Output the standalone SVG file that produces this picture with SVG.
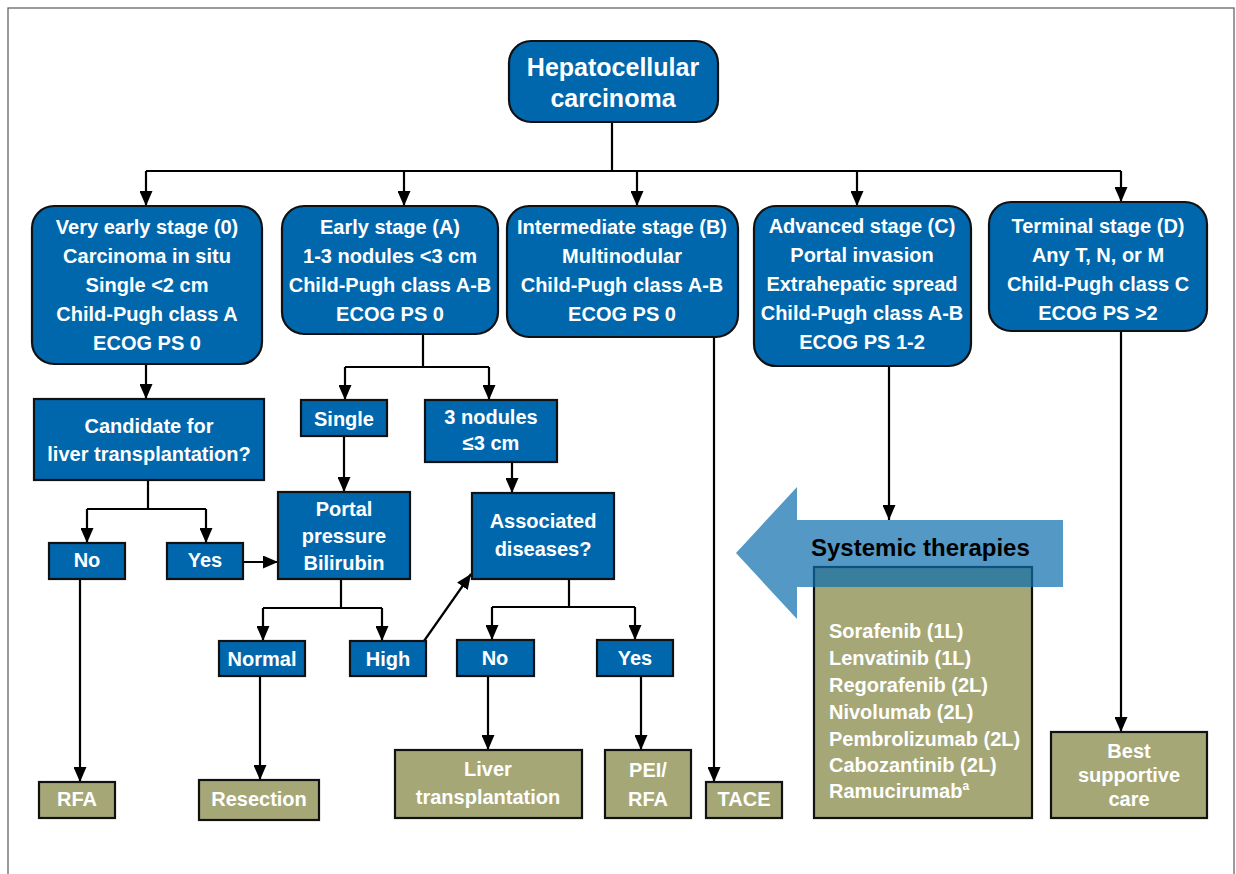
<svg xmlns="http://www.w3.org/2000/svg" width="1236" height="874" viewBox="0 0 1236 874">
<defs>
<marker id="ah" markerWidth="15" markerHeight="13" refX="15" refY="6.5" orient="auto" markerUnits="userSpaceOnUse"><path d="M0,0 L15,6.5 L0,13 Z" fill="#000"/></marker>
<style>
.b{fill:#0067ad;stroke:#111;stroke-width:2.2}
.o{fill:#a6a777;stroke:#111;stroke-width:2.2}
.t{font-family:"Liberation Sans",Arial,sans-serif;font-weight:bold;font-size:20px;fill:#fff;text-anchor:middle}
.l{font-family:"Liberation Sans",Arial,sans-serif;font-weight:bold;font-size:20px;fill:#fff}
.c{fill:none;stroke:#000;stroke-width:2.2}
.a{fill:none;stroke:#000;stroke-width:2.2;marker-end:url(#ah)}
</style>
</defs>
<rect width="1236" height="874" fill="#fff"/>
<rect x="8" y="8" width="1226" height="880" fill="none" stroke="#666" stroke-width="1.3"/>

<g id="connectors">
<path class="c" d="M612,122 V171 M146,171 H1121"/>
<path class="a" d="M146,171 V206"/>
<path class="a" d="M404,171 V206"/>
<path class="a" d="M637,171 V206"/>
<path class="a" d="M857,171 V206"/>
<path class="a" d="M1121,171 V202"/>
<path class="a" d="M146,364 V399"/>
<path class="c" d="M148,480 V509 M87,509 H206"/>
<path class="a" d="M87,509 V543"/>
<path class="a" d="M206,509 V543"/>
<path class="a" d="M243,562 H278"/>
<path class="c" d="M423,334 V367 M345,367 H489"/>
<path class="a" d="M345,367 V400"/>
<path class="a" d="M489,367 V400"/>
<path class="a" d="M344,436 V492"/>
<path class="a" d="M512,462 V493"/>
<path class="c" d="M341,579 V608 M263,608 H382"/>
<path class="a" d="M263,608 V641"/>
<path class="a" d="M382,608 V641"/>
<path class="a" d="M424,641 L471,574"/>
<path class="c" d="M569,579 V607 M492,607 H635"/>
<path class="a" d="M492,607 V640"/>
<path class="a" d="M635,607 V640"/>
<path class="a" d="M260,676 V780"/>
<path class="a" d="M80,579 V782"/>
<path class="a" d="M488,676 V750"/>
<path class="a" d="M641,676 V750"/>
<path class="a" d="M714,337 V782"/>
<path class="a" d="M1121,331 V732"/>
</g>

<g id="root">
<rect class="b" x="509" y="41" width="209" height="81" rx="22"/>
<text class="t" style="font-size:25px" x="613" y="76">Hepatocellular</text>
<text class="t" style="font-size:25px" x="613" y="107">carcinoma</text>
</g>

<g id="stage0">
<rect class="b" x="32" y="206" width="230" height="158" rx="22"/>
<text class="t" x="147" y="234">Very early stage (0)</text>
<text class="t" x="147" y="263">Carcinoma in situ</text>
<text class="t" x="147" y="292">Single &lt;2 cm</text>
<text class="t" x="147" y="321">Child-Pugh class A</text>
<text class="t" x="147" y="350">ECOG PS 0</text>
</g>

<g id="stageA">
<rect class="b" x="282" y="206" width="216" height="128" rx="22"/>
<text class="t" x="390" y="234">Early stage (A)</text>
<text class="t" x="390" y="263">1-3 nodules &lt;3 cm</text>
<text class="t" x="390" y="292">Child-Pugh class A-B</text>
<text class="t" x="390" y="321">ECOG PS 0</text>
</g>

<g id="stageB">
<rect class="b" x="507" y="206" width="231" height="131" rx="22"/>
<text class="t" x="622" y="234">Intermediate stage (B)</text>
<text class="t" x="622" y="263">Multinodular</text>
<text class="t" x="622" y="292">Child-Pugh class A-B</text>
<text class="t" x="622" y="321">ECOG PS 0</text>
</g>

<g id="stageC">
<rect class="b" x="754" y="206" width="217" height="160" rx="22"/>
<text class="t" x="862" y="233">Advanced stage (C)</text>
<text class="t" x="862" y="262">Portal invasion</text>
<text class="t" x="862" y="291">Extrahepatic spread</text>
<text class="t" x="862" y="320">Child-Pugh class A-B</text>
<text class="t" x="862" y="349">ECOG PS 1-2</text>
</g>

<g id="stageD">
<rect class="b" x="989" y="202" width="218" height="129" rx="22"/>
<text class="t" x="1098" y="233">Terminal stage (D)</text>
<text class="t" x="1098" y="262">Any T, N, or M</text>
<text class="t" x="1098" y="291">Child-Pugh class C</text>
<text class="t" x="1098" y="320">ECOG PS &gt;2</text>
</g>

<g id="candidate">
<rect class="b" x="34" y="399" width="230" height="81"/>
<text class="t" x="149" y="433">Candidate for</text>
<text class="t" x="149" y="461">liver transplantation?</text>
</g>

<g id="no1">
<rect class="b" x="49" y="543" width="76" height="36"/>
<text class="t" x="87" y="567">No</text>
</g>

<g id="yes1">
<rect class="b" x="167" y="543" width="76" height="36"/>
<text class="t" x="205" y="567">Yes</text>
</g>

<g id="single">
<rect class="b" x="301" y="400" width="86" height="36"/>
<text class="t" x="344" y="426">Single</text>
</g>

<g id="nodules">
<rect class="b" x="425" y="400" width="132" height="62"/>
<text class="t" x="491" y="424">3 nodules</text>
<text class="t" x="491" y="450">≤3 cm</text>
</g>

<g id="portal">
<rect class="b" x="278" y="492" width="132" height="87"/>
<text class="t" x="344" y="516">Portal</text>
<text class="t" x="344" y="543">pressure</text>
<text class="t" x="344" y="570">Bilirubin</text>
</g>

<g id="associated">
<rect class="b" x="472" y="493" width="142" height="86"/>
<text class="t" x="543" y="528">Associated</text>
<text class="t" x="543" y="556">diseases?</text>
</g>

<g id="normal">
<rect class="b" x="219" y="641" width="86" height="35"/>
<text class="t" x="262" y="666">Normal</text>
</g>

<g id="high">
<rect class="b" x="350" y="641" width="76" height="35"/>
<text class="t" x="388" y="666">High</text>
</g>

<g id="no2">
<rect class="b" x="457" y="640" width="77" height="36"/>
<text class="t" x="495" y="665">No</text>
</g>

<g id="yes2">
<rect class="b" x="597" y="640" width="76" height="36"/>
<text class="t" x="635" y="665">Yes</text>
</g>

<g id="rfa">
<rect class="o" x="39" y="782" width="76" height="36"/>
<text class="t" x="77" y="806">RFA</text>
</g>

<g id="resection">
<rect class="o" x="199" y="780" width="120" height="40"/>
<text class="t" x="259" y="806">Resection</text>
</g>

<g id="livertx">
<rect class="o" x="395" y="750" width="187" height="68"/>
<text class="t" x="488" y="776">Liver</text>
<text class="t" x="488" y="804">transplantation</text>
</g>

<g id="peirfa">
<rect class="o" x="605" y="750" width="86" height="68"/>
<text class="t" x="648" y="777">PEI/</text>
<text class="t" x="648" y="806">RFA</text>
</g>

<g id="tace">
<rect class="o" x="706" y="782" width="76" height="36"/>
<text class="t" x="744" y="806">TACE</text>
</g>

<g id="systemic">
<rect class="o" x="814" y="567" width="218" height="251"/>
<path d="M736,553 L797,487 L797,520 L1063,520 L1063,587 L797,587 L797,619 Z" fill="#0c6dae" fill-opacity="0.7"/>
<text x="811" y="556" style="font-family:'Liberation Sans',Arial,sans-serif;font-weight:bold;font-size:24px;fill:#000">Systemic therapies</text>
<text class="l" x="829" y="638">Sorafenib (1L)</text>
<text class="l" x="829" y="665">Lenvatinib (1L)</text>
<text class="l" x="829" y="692">Regorafenib (2L)</text>
<text class="l" x="829" y="719">Nivolumab (2L)</text>
<text class="l" x="829" y="746">Pembrolizumab (2L)</text>
<text class="l" x="829" y="772">Cabozantinib (2L)</text>
<text class="l" x="829" y="798">Ramucirumab<tspan dy="-8" style="font-size:12px">a</tspan></text>
</g>
<path class="a" d="M889,366 V520"/>

<g id="bsc">
<rect class="o" x="1051" y="732" width="156" height="86"/>
<text class="t" x="1129" y="758">Best</text>
<text class="t" x="1129" y="782">supportive</text>
<text class="t" x="1129" y="806">care</text>
</g>
</svg>
